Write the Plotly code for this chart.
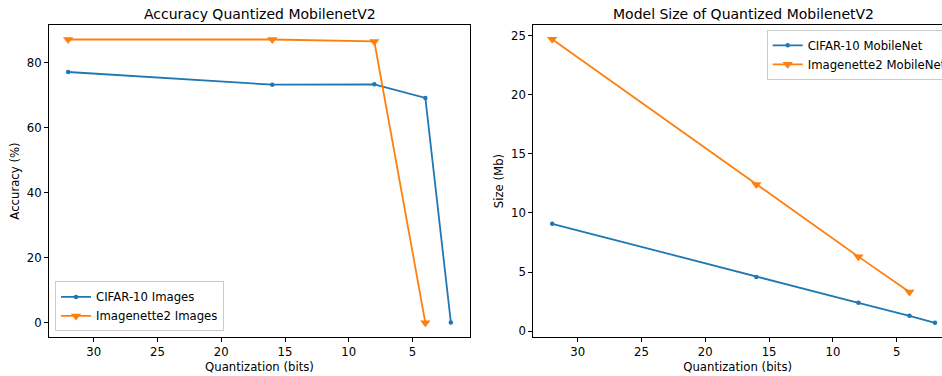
import plotly.graph_objects as go

# Data
bits_cifar = [32, 16, 8, 4, 2]
bits_imnet = [32, 16, 8, 4]
acc_cifar = [77.2, 73.3, 73.4, 69.2, 0.1]
acc_imnet = [87.2, 87.2, 86.6, 0.0]
size_cifar = [9.08, 4.58, 2.39, 1.29, 0.70]
size_imnet = [24.7, 12.4, 6.3, 3.3]

BLUE = "#1f77b4"
ORANGE = "#ff7f0e"
FONT = "DejaVu Sans"
FS = 11.7
TFS = 14
W, H = 942, 376
MT, MB = 24.5, 38.7
PH = H - MT - MB

fig = go.Figure()

fig.add_trace(go.Scatter(x=bits_cifar, y=acc_cifar, mode="lines+markers", name="CIFAR-10 Images",
                         line=dict(color=BLUE, width=1.8), marker=dict(symbol="circle", size=4.5, color=BLUE),
                         xaxis="x", yaxis="y", legend="legend"))
fig.add_trace(go.Scatter(x=bits_imnet, y=acc_imnet, mode="lines+markers", name="Imagenette2 Images",
                         line=dict(color=ORANGE, width=1.8), marker=dict(symbol="triangle-down", size=9, color=ORANGE),
                         xaxis="x", yaxis="y", legend="legend"))
fig.add_trace(go.Scatter(x=bits_cifar, y=size_cifar, mode="lines+markers", name="CIFAR-10 MobileNet",
                         line=dict(color=BLUE, width=1.8), marker=dict(symbol="circle", size=4.5, color=BLUE),
                         xaxis="x2", yaxis="y2", legend="legend2"))
fig.add_trace(go.Scatter(x=bits_imnet, y=size_imnet, mode="lines+markers", name="Imagenette2 MobileNet",
                         line=dict(color=ORANGE, width=1.8), marker=dict(symbol="triangle-down", size=9, color=ORANGE),
                         xaxis="x2", yaxis="y2", legend="legend2"))

axis_common = dict(showgrid=False, zeroline=False, showline=True, linecolor="black", linewidth=1,
                   ticks="outside", ticklen=4, tickwidth=1, tickcolor="black",
                   tickfont=dict(family=FONT, size=FS, color="black"))

xticks = [30, 25, 20, 15, 10, 5]

fig.update_layout(
    width=W, height=H,
    margin=dict(l=0, r=0, t=MT, b=MB, autoexpand=False),
    paper_bgcolor="white", plot_bgcolor="white",
    font=dict(family=FONT, size=FS, color="black"),
    xaxis=dict(domain=[49 / W, 470 / W], range=[33.5, 0.5], tickvals=xticks, mirror=True,
               title=dict(text="Quantization (bits)", standoff=4, font=dict(family=FONT, size=FS)),
               anchor="y", **axis_common),
    yaxis=dict(domain=[0, 1], range=[-4.37, 91.67], tickvals=[0, 20, 40, 60, 80], mirror=True,
               title=dict(text="Accuracy (%)", standoff=4, font=dict(family=FONT, size=FS)),
               anchor="x", **axis_common),
    xaxis2=dict(domain=[533.3 / W, 1], range=[33.48, 1.45], tickvals=xticks, mirror=True,
                title=dict(text="Quantization (bits)", standoff=4, font=dict(family=FONT, size=FS)),
                anchor="y2", **axis_common),
    yaxis2=dict(domain=[0, 1], range=[-0.5, 25.9], tickvals=[0, 5, 10, 15, 20, 25], mirror=False,
                title=dict(text="Size (Mb)", standoff=4, font=dict(family=FONT, size=FS)),
                anchor="x2", **axis_common),
    legend=dict(x=55 / W, xanchor="left", y=(337.3 - 331.7) / PH, yanchor="bottom",
                bgcolor="rgba(255,255,255,0.8)", bordercolor="#cccccc", borderwidth=1,
                font=dict(family=FONT, size=FS), tracegroupgap=0, itemwidth=30),
    legend2=dict(x=766.7 / W, xanchor="left", y=1 - (29.3 - MT) / PH, yanchor="top",
                 bgcolor="rgba(255,255,255,0.8)", bordercolor="#cccccc", borderwidth=1,
                 font=dict(family=FONT, size=FS), tracegroupgap=0, itemwidth=30),
    annotations=[
        dict(text="Accuracy Quantized MobilenetV2", xref="paper", yref="paper",
             x=(49 + 470) / 2 / W, y=1 + (MT - 13.3) / PH, xanchor="center", yanchor="middle",
             showarrow=False, font=dict(family=FONT, size=TFS, color="black")),
        dict(text="Model Size of Quantized MobilenetV2", xref="paper", yref="paper",
             x=(533.3 + 954) / 2 / W, y=1 + (MT - 13.3) / PH, xanchor="center", yanchor="middle",
             showarrow=False, font=dict(family=FONT, size=TFS, color="black")),
    ],
)

fig.write_html("out.html")
